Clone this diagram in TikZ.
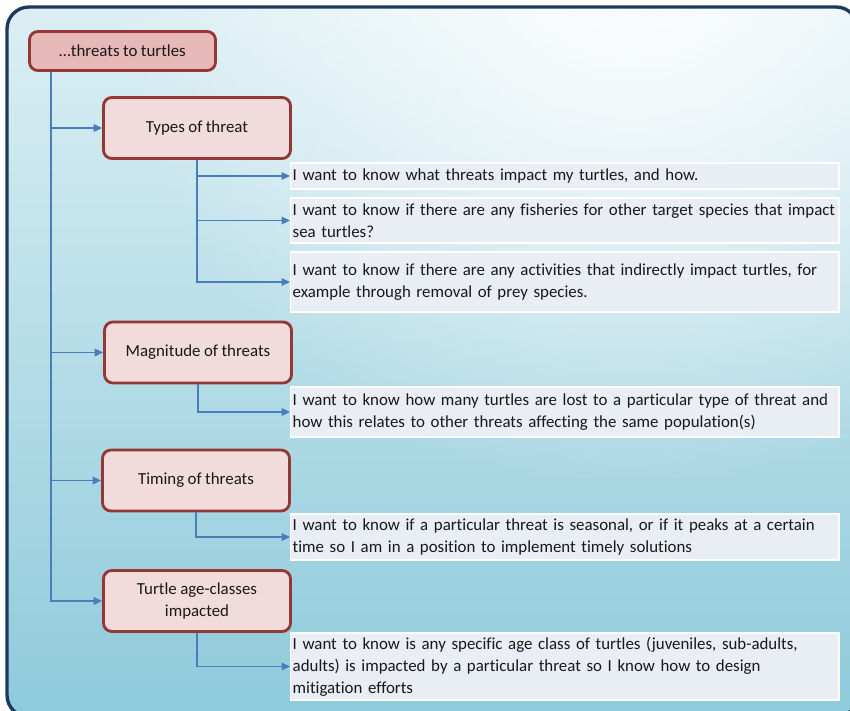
\documentclass[tikz,border=0pt]{standalone}
\usepackage{fontspec}
\setmainfont{Carlito}[Ligatures=NoCommon,WordSpace=0.9]
\usetikzlibrary{arrows.meta,positioning,fadings}
\definecolor{sea}{HTML}{8ECADB}
\definecolor{seatop}{HTML}{DCEFF4}
\definecolor{frameblue}{HTML}{1C3A5C}
\definecolor{brick}{HTML}{953735}
\definecolor{rosy}{HTML}{F2DCDB}
\definecolor{rosydark}{HTML}{E6B9B8}
\definecolor{flowblue}{HTML}{4A7EBB}
\definecolor{noteback}{HTML}{E9EDF4}
\tikzfading[name=glow,inner color=transparent!0,outer color=transparent!100]

\begin{document}
\begin{tikzpicture}[x=0.025cm,y=-0.025cm,>={Triangle[length=6pt,width=5.5pt]},font=\fontsize{12}{15.5}\selectfont,text=black!90]
\tikzstyle{topic}=[draw=brick,line width=2pt,fill=rosy,rounded corners=6pt,minimum width=4.675cm,minimum height=1.525cm,align=center]
\tikzstyle{note}=[fill=noteback,draw=white,line width=1pt,text width=13.6cm,inner xsep=0.05cm,inner ysep=1pt,align=left,anchor=west]
\tikzstyle{flow}=[flowblue,line width=0.8pt,->]
\useasboundingbox (0,0) rectangle (850,711);
% background panel
\begin{scope}
\clip[rounded corners=0.55cm] (7,7) rectangle (858,717);
\shade[top color=seatop,bottom color=sea] (0,0) rectangle (860,720);
\fill[white,path fading=glow,opacity=0.95] (630,-30) circle (13cm);
\end{scope}
\draw[frameblue,line width=2.4pt,rounded corners=0.55cm] (7,7) rectangle (858,717);
% topics
\node[topic,fill=rosydark,minimum width=4.65cm,minimum height=0.975cm] (root) at (122.5,51) {…threats to turtles};
\node[topic] (types) at (197,128) {Types of threat};
\node[topic] (magnitude) at (198,352.5) {Magnitude of threats};
\node[topic] (timing) at (196,480.5) {Timing of threats};
\node[topic] (age) at (197,601) {Turtle age-classes\\impacted};
% questions
\node[note,minimum height=0.65cm] (q1) at (290,176) {I want to know what threats impact my turtles, and how.};
\node[note,minimum height=1.125cm] (q2) at (290,220.5) {I want to know if there are any fisheries for other target species that impact\\sea turtles?};
\node[note,minimum height=1.5cm] (q3) at (290,282) {I want to know if there are any activities that indirectly impact turtles, for\\example through removal of prey species.};
\node[note,minimum height=1.25cm] (q4) at (290,412) {I want to know how many turtles are lost to a particular type of threat and\\how this relates to other threats affecting the same population(s)};
\node[note,minimum height=1.15cm] (q5) at (290,537) {I want to know if a particular threat is seasonal, or if it peaks at a certain\\time so I am in a position to implement timely solutions};
\node[note,minimum height=1.675cm] (q6) at (290,666.5) {I want to know is any specific age class of turtles (juveniles, sub-adults,\\adults) is impacted by a particular threat so I know how to design\\mitigation efforts};
% connectors
\coordinate (trunk) at (51,72);
\foreach \t in {types,magnitude,timing,age}
 \draw[flow] (trunk) |- (\t.west);
\foreach \t/\q in {types/q1,types/q2,types/q3,magnitude/q4,timing/q5,age/q6}
 \draw[flow] (\t.south) |- (\q.west);
\end{tikzpicture}
\end{document}
